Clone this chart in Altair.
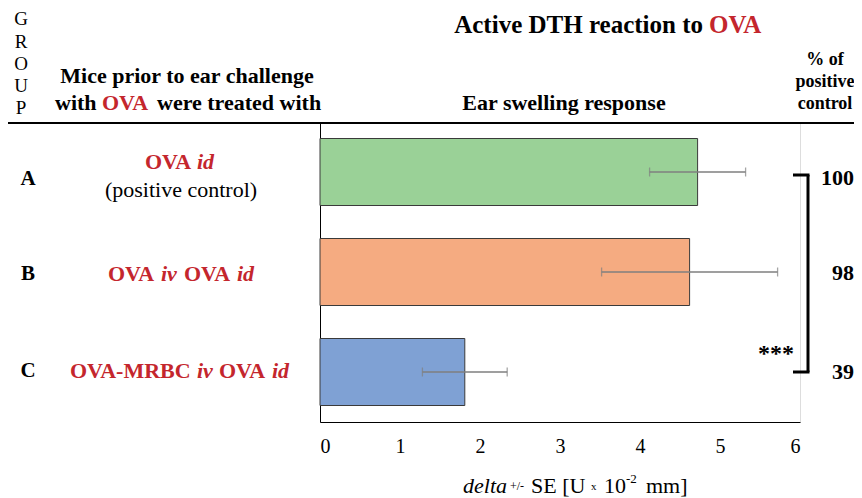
import altair as alt
import pandas as pd

# ---------------- data ----------------
groups = ["A", "B", "C"]
means = [4.72, 4.62, 1.81]
ses = [0.60, 1.10, 0.53]
pct_of_control = [100, 98, 39]
bar_colors = ["#9ad197", "#f5ab81", "#7fa1d4"]
x_ticks = [0, 1, 2, 3, 4, 5, 6]

FONT = "Liberation Serif"
RED = "#c4262d"
OX, OY = 320, 122          # page position of plot origin
W, H = 480, 300

df = pd.DataFrame({"group": groups, "mean": means, "se": ses,
                   "pct": pct_of_control, "color": bar_colors})
df["lo"] = df["mean"] - df["se"]
df["hi"] = df["mean"] + df["se"]
df["pct_txt"] = df["pct"].astype(str)

base = alt.Chart(df)
one = alt.Chart(pd.DataFrame({"k": [0]}))

yscale = alt.Scale(domain=groups, paddingInner=0.33, paddingOuter=0.165)
yaxis = alt.Axis(labels=False, ticks=False, title=None, domain=True,
                 domainColor="black", domainWidth=1, grid=False)
Y = alt.Y("group:N", sort=groups, scale=yscale, axis=yaxis)
xscale = alt.Scale(domain=[0, 6], nice=False, zero=True)
xaxis = alt.Axis(values=x_ticks, title=None, grid=False, ticks=False,
                 labelFontSize=20, labelFont=FONT, labelColor="black",
                 labelPadding=14, domainColor="black", domainWidth=1, format="d")

bars = base.mark_bar(stroke="#3a3a3a", strokeWidth=1).encode(
    x=alt.X("mean:Q", scale=xscale, axis=xaxis),
    y=Y,
    color=alt.Color("color:N", scale=None),
)
err = base.mark_rule(color="#7f7f7f", strokeWidth=1.3).encode(
    x="lo:Q", x2="hi:Q", y=Y)
cap_lo = base.mark_tick(color="#7f7f7f", size=9, thickness=1.3, orient="vertical").encode(x="lo:Q", y=Y)
cap_hi = base.mark_tick(color="#7f7f7f", size=9, thickness=1.3, orient="vertical").encode(x="hi:Q", y=Y)

layers = [bars, err, cap_lo, cap_hi]


def txt(s, x, y, size, weight="normal", style="normal", color="black", align="left"):
    return one.mark_text(font=FONT, fontSize=size, fontWeight=weight, fontStyle=style,
                         color=color, align=align, baseline="middle").encode(
        x=alt.value(x - OX), y=alt.value(y - OY), text=alt.value(s))


def rowtxt(g, s, x, dy, size, weight="bold", style="normal", color="black", align="left", field=None):
    return base.transform_filter(alt.datum.group == g).mark_text(
        font=FONT, fontSize=size, fontWeight=weight, fontStyle=style, color=color,
        align=align, baseline="middle", dy=dy).encode(
        x=alt.value(x - OX), y=Y, text=(alt.Text(field) if field else alt.value(s)))


# GROUP vertical letters
for ch, yy in zip("GROUP", [19, 42, 64, 86, 108]):
    layers.append(txt(ch, 21, yy, 19, align="center"))

# left header
layers.append(txt("Mice prior to ear challenge", 187, 76, 22, weight="bold", align="center"))
layers.append(txt("with", 55, 103, 22, weight="bold"))
layers.append(txt("OVA", 102, 103, 22, weight="bold", color=RED))
layers.append(txt("were treated with", 157, 103, 22, weight="bold"))

# main title
layers.append(txt("Active DTH  reaction to", 703, 25, 25, weight="bold", align="right"))
layers.append(txt("OVA", 709, 25, 25, weight="bold", color=RED))
layers.append(txt("Ear swelling response", 564, 103, 22, weight="bold", align="center"))

# right header
for s, yy in zip(["% of", "positive", "control"], [60, 82, 104]):
    layers.append(txt(s, 825, yy, 18, weight="bold", align="center"))

# header separator line
layers.append(one.mark_rule(color="black", strokeWidth=1.8).encode(
    x=alt.value(8 - OX), x2=alt.value(854 - OX), y=alt.value(1)))

# group letters
layers.append(rowtxt("A", "A", 28, 7, 21, align="center"))
layers.append(rowtxt("B", "B", 28, 2, 21, align="center"))
layers.append(rowtxt("C", "C", 28, -1, 21, align="center"))

# group treatment labels
layers.append(rowtxt("A", "OVA", 145, -10, 22, color=RED))
layers.append(rowtxt("A", "id", 197, -10, 22, style="italic", color=RED))
layers.append(rowtxt("A", "(positive control)", 181, 18, 22, weight="normal", align="center"))

layers.append(rowtxt("B", "OVA", 108, 2, 22, color=RED))
layers.append(rowtxt("B", "iv", 161, 2, 22, style="italic", color=RED))
layers.append(rowtxt("B", "OVA", 184, 2, 22, color=RED))
layers.append(rowtxt("B", "id", 237, 2, 22, style="italic", color=RED))

layers.append(rowtxt("C", "OVA-MRBC", 70, -1, 22, color=RED))
layers.append(rowtxt("C", "iv", 197, -1, 22, style="italic", color=RED))
layers.append(rowtxt("C", "OVA", 219, -1, 22, color=RED))
layers.append(rowtxt("C", "id", 272, -1, 22, style="italic", color=RED))

# percent of positive control
layers.append(rowtxt("A", None, 854, 6, 22, align="right", field="pct_txt:N"))
layers.append(rowtxt("B", None, 854, 1, 22, align="right", field="pct_txt:N"))
layers.append(rowtxt("C", None, 854, 0, 22, align="right", field="pct_txt:N"))

# significance bracket
layers.append(one.mark_rule(color="black", strokeWidth=3).encode(
    x=alt.value(808 - OX), y=alt.value(175 - OY), y2=alt.value(372 - OY)))
layers.append(one.mark_rule(color="black", strokeWidth=3).encode(
    x=alt.value(793 - OX), x2=alt.value(809.5 - OX), y=alt.value(175 - OY)))
layers.append(one.mark_rule(color="black", strokeWidth=3).encode(
    x=alt.value(793 - OX), x2=alt.value(809.5 - OX), y=alt.value(372 - OY)))
layers.append(txt("***", 776, 354, 24, weight="bold", align="center"))

# x-axis title pieces
layers.append(txt("delta", 463, 486, 22, style="italic"))
layers.append(txt("+/-", 510, 486, 12))
layers.append(txt("SE [U", 531, 486, 22))
layers.append(txt("x", 591, 487, 11))
layers.append(txt("10", 604, 486, 22))
layers.append(txt("-2", 626, 479, 13))
layers.append(txt("mm]", 646, 486, 22))

chart = alt.layer(*layers).properties(
    width=W, height=H,
    padding={"left": OX - 8, "top": OY - 8, "right": 846 - (OX - 8) - W, "bottom": 76},
    autosize=alt.AutoSizeParams(type="none"),
).configure_view(stroke=None).configure(background="white")

chart.save("out.html", embed_options={"renderer": "svg", "actions": False})
